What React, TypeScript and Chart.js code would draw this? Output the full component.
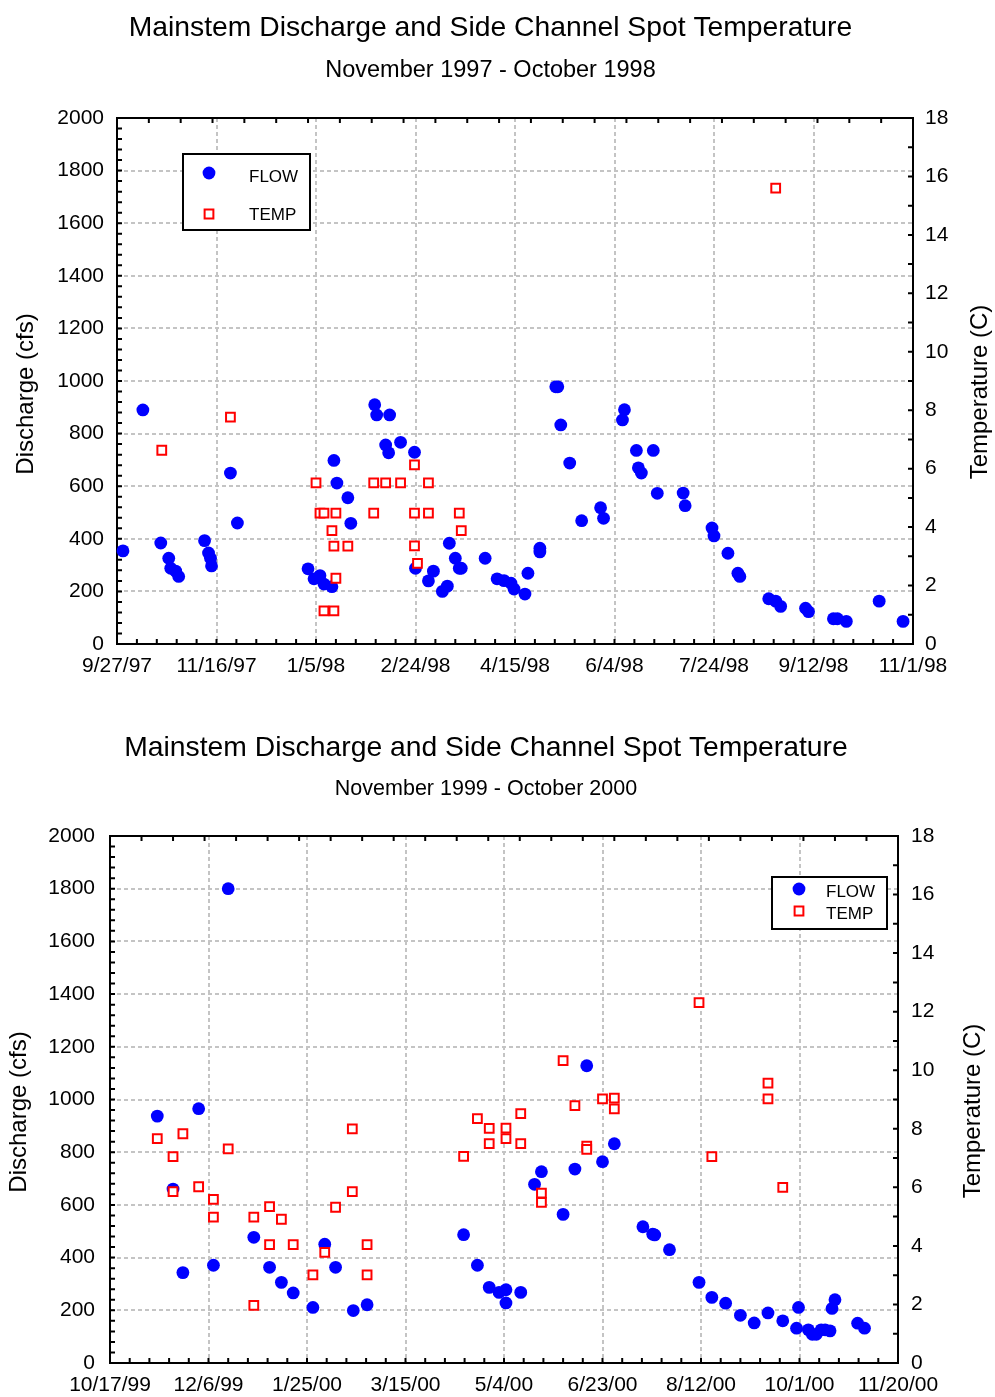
import React, { useEffect, useRef } from 'react';
import { Chart, registerables } from 'chart.js';

Chart.register(...registerables);

const FONT = "'Liberation Sans', Arial, Helvetica, sans-serif";
const TITLE = 'Mainstem Discharge and Side Channel Spot Temperature';

// ---------- Chart 1: November 1997 - October 1998 (x = days since 9/27/97) ----------
const subtitle1 = 'November 1997 - October 1998';
const xTickLabels1 = ['9/27/97', '11/16/97', '1/5/98', '2/24/98', '4/15/98', '6/4/98', '7/24/98', '9/12/98', '11/1/98'];
const flowDays1 = [3, 13, 22, 26, 27, 29.5, 31, 44, 46, 47, 47.5, 57, 60.5, 96, 99, 102, 104, 108, 109, 110.5, 116, 117.5, 129.5, 130.5, 135, 136.5, 137, 142.5, 149.5, 150, 156.5, 159, 163.5, 166, 167, 170, 172, 173, 185, 191, 194.5, 198, 199.5, 205, 206.5, 212.5, 212.5, 220.5, 221.5, 223, 227.5, 233.5, 243, 244.5, 254, 255, 261, 262, 263.5, 269.5, 271.5, 284.5, 285.5, 299, 300, 307, 312, 313, 327.5, 331, 333.5, 346, 347.5, 360, 362, 366.5, 383, 395];
const flowCfs1 = [354, 890, 384, 326, 288, 277, 257, 393, 346, 326, 297, 650, 460, 286, 248, 260, 228, 218, 698, 612, 556, 459, 910, 871, 757, 727, 871, 767, 729, 288, 240, 277, 200, 220, 383, 326, 288, 288, 326, 248, 241, 231, 209, 190, 269, 364, 350, 978, 978, 833, 688, 469, 518, 478, 852, 891, 736, 670, 650, 736, 573, 574, 526, 441, 411, 345, 269, 257, 172, 163, 143, 136, 123, 96, 96, 86, 163, 86];
const tempDays1 = [22.5, 57, 100, 102, 104, 110, 108, 109, 116, 110, 104, 109, 129, 135, 129, 142.5, 149.5, 156.5, 149.5, 156.5, 172, 173, 149.5, 151, 331];
const tempC1 = [6.63, 7.76, 5.51, 4.48, 4.48, 4.48, 3.88, 3.35, 3.35, 2.25, 1.13, 1.13, 5.51, 5.51, 4.48, 5.51, 6.13, 5.51, 4.48, 4.48, 4.48, 3.88, 3.36, 2.76, 15.6];

// ---------- Chart 2: November 1999 - October 2000 (x = days since 10/17/99) ----------
const subtitle2 = 'November 1999 - October 2000';
const xTickLabels2 = ['10/17/99', '12/6/99', '1/25/00', '3/15/00', '5/4/00', '6/23/00', '8/12/00', '10/1/00', '11/20/00'];
const flowDays2 = [24, 32, 37, 45, 52.5, 60, 73, 81, 87, 93, 103, 109, 114.5, 123.5, 130.5, 179.5, 186.5, 192.5, 197.5, 201, 201, 208.5, 215.5, 219, 230, 236, 242, 250, 256, 270.5, 275.5, 276.5, 284, 299, 305.5, 312.5, 320, 327, 334, 341.5, 348.5, 349.5, 354.5, 356.5, 358.5, 361, 363, 365.5, 366.5, 368, 379.5, 383];
const flowCfs2 = [937, 660, 343, 965, 371, 1800, 477, 363, 306, 266, 211, 451, 363, 199, 221, 487, 371, 287, 268, 278, 228, 268, 678, 726, 564, 736, 1128, 764, 832, 517, 489, 486, 430, 306, 249, 227, 181, 152, 190, 160, 132, 211, 126, 109, 109, 126, 126, 122, 207, 240, 151, 132];
const tempDays2 = [24, 32, 32, 37, 45, 52.5, 52.5, 60, 73, 73, 81, 81, 87, 93, 103, 109, 114.5, 123, 123, 130.5, 130.5, 179.5, 186.5, 192.5, 192.5, 201, 201, 208.5, 208.5, 219, 219, 230, 236, 242, 242, 250, 256, 256, 299, 305.5, 334, 334, 341.5];
const tempC2 = [7.66, 7.05, 5.85, 7.83, 6.02, 5.59, 4.98, 7.31, 4.98, 1.97, 5.34, 4.04, 4.91, 4.04, 3.01, 3.78, 5.32, 8.0, 5.85, 4.04, 3.01, 7.06, 8.35, 8.01, 7.49, 8.02, 7.66, 8.52, 7.49, 5.8, 5.49, 10.33, 8.79, 7.41, 7.3, 9.02, 9.05, 8.68, 12.31, 7.05, 9.56, 9.02, 6.0];

// axis ranges (shared)
const X_MAX_DAYS = 400;
const X_LABEL_STEP = 50;
const Q_MAX = 2000;
const Q_STEP = 200;
const T_MAX = 18;
const T_STEP = 2;

const GRID = '#c4c4c4';
const BLUE = '#0000ff';
const RED = '#ff0000';

const decorPlugin = {
  id: 'decor',
  beforeDatasetsDraw(chart: any, _args: any, o: any) {
    const { ctx, chartArea: a } = chart;
    const xs = chart.scales.x;
    const yl = chart.scales.y;
    const yr = chart.scales.y1;
    ctx.save();
    ctx.strokeStyle = '#000';
    ctx.lineWidth = 2;
    ctx.beginPath();
    const L = o.tickLen;
    for (let d = 0; d <= X_MAX_DAYS + 0.001; d += o.xMinor) {
      const px = xs.getPixelForValue(d);
      ctx.moveTo(px, a.bottom);
      ctx.lineTo(px, a.bottom - L);
    }
    for (let d = 0; d <= X_MAX_DAYS + 0.001; d += o.xTopMinor) {
      const px = xs.getPixelForValue(d);
      ctx.moveTo(px, a.top);
      ctx.lineTo(px, a.top + L);
    }
    for (let v = 0; v <= Q_MAX + 0.001; v += o.yMinor) {
      const py = yl.getPixelForValue(v);
      ctx.moveTo(a.left, py);
      ctx.lineTo(a.left + L, py);
    }
    for (let t = 0; t <= T_MAX + 0.001; t += o.y1Minor) {
      const py = yr.getPixelForValue(t);
      ctx.moveTo(a.right, py);
      ctx.lineTo(a.right - L, py);
    }
    ctx.stroke();
    ctx.strokeRect(a.left, a.top, a.right - a.left, a.bottom - a.top);
    ctx.restore();
  },
  afterDraw(chart: any, _args: any, o: any) {
    const { ctx } = chart;
    ctx.save();
    ctx.fillStyle = '#000';
    ctx.textBaseline = 'middle';
    ctx.textAlign = 'center';
    ctx.font = `${o.axisTitleSize}px ${FONT}`;
    // left axis title
    ctx.save();
    ctx.translate(o.leftTitle.x, o.leftTitle.y);
    ctx.rotate(-Math.PI / 2);
    ctx.fillText(o.leftTitle.text, 0, 0);
    ctx.restore();
    // right axis title (reads bottom to top)
    ctx.save();
    ctx.translate(o.rightTitle.x, o.rightTitle.y);
    ctx.rotate(-Math.PI / 2);
    ctx.fillText(o.rightTitle.text, 0, 0);
    ctx.restore();

    // legend box
    const lg = o.legend;
    ctx.fillStyle = '#fff';
    ctx.fillRect(lg.x, lg.y, lg.w, lg.h);
    ctx.strokeStyle = '#000';
    ctx.lineWidth = 2;
    ctx.strokeRect(lg.x, lg.y, lg.w, lg.h);
    ctx.font = `${lg.fontSize}px ${FONT}`;
    ctx.textAlign = 'left';
    chart.data.datasets.forEach((ds: any, i: number) => {
      const row = lg.rows[i];
      const r = ds.pointRadius;
      ctx.beginPath();
      if (ds.pointStyle === 'rect') {
        const s = Math.SQRT1_2 * r;
        ctx.rect(lg.symX - s, row.sy - s, 2 * s, 2 * s);
        ctx.fillStyle = ds.backgroundColor;
        ctx.fill();
        ctx.lineWidth = ds.borderWidth;
        ctx.strokeStyle = ds.borderColor;
        ctx.stroke();
      } else {
        ctx.arc(lg.symX, row.sy, r, 0, Math.PI * 2);
        ctx.fillStyle = ds.backgroundColor;
        ctx.fill();
      }
      ctx.fillStyle = '#000';
      ctx.fillText(ds.label, lg.textX, row.ty);
    });
    ctx.restore();
  },
};

type Params = {
  width: number;
  height: number;
  left: number;
  right: number;
  top: number;
  bottom: number;
  padRight: number;
  titleTop: number;
  subTop: number;
  subSize: number;
  yPadL: number;
  yPadR: number;
  xPad: number;
  subtitle: string;
  xTickLabels: string[];
  flowDays: number[];
  flowCfs: number[];
  tempDays: number[];
  tempC: number[];
  leftTitle: { x: number; y: number };
  rightTitle: { x: number; y: number };
  legend: any;
};

const TITLE_SIZE = 28.3;
const TICK_SIZE = 21;

function buildConfig(p: Params): any {
  const titleLH = TITLE_SIZE * 1.2;
  const subLH = p.subSize * 1.2;
  const subBottom = p.top - (p.titleTop + titleLH + p.subTop + subLH);
  const tickFont = { family: FONT, size: TICK_SIZE };
  return {
    type: 'scatter',
    data: {
      datasets: [
        {
          label: 'FLOW',
          data: p.flowDays.map((d, i) => ({ x: d, y: p.flowCfs[i] })),
          yAxisID: 'y',
          pointStyle: 'circle',
          pointRadius: 6.4,
          pointHoverRadius: 6.4,
          backgroundColor: BLUE,
          borderColor: BLUE,
          borderWidth: 0,
          order: 2,
          clip: false,
        },
        {
          label: 'TEMP',
          data: p.tempDays.map((d, i) => ({ x: d, y: p.tempC[i] })),
          yAxisID: 'y1',
          pointStyle: 'rect',
          pointRadius: 6.2,
          pointHoverRadius: 6.2,
          backgroundColor: '#ffffff',
          borderColor: RED,
          borderWidth: 2,
          order: 1,
          clip: false,
        },
      ],
    },
    plugins: [decorPlugin],
    options: {
      animation: false,
      responsive: false,
      events: [],
      layout: { padding: { left: 0, right: p.padRight, top: 0, bottom: 0 } },
      plugins: {
        legend: { display: false },
        tooltip: { enabled: false },
        title: {
          display: true,
          text: TITLE,
          color: '#000',
          font: { family: FONT, size: TITLE_SIZE, weight: 'normal', lineHeight: 1.2 },
          padding: { top: p.titleTop, bottom: 0 },
        },
        subtitle: {
          display: true,
          text: p.subtitle,
          color: '#000',
          font: { family: FONT, size: p.subSize, weight: 'normal', lineHeight: 1.2 },
          padding: { top: p.subTop, bottom: subBottom },
        },
        decor: {
          tickLen: 5,
          xMinor: 10,
          xTopMinor: 16,
          yMinor: 40,
          y1Minor: 1,
          axisTitleSize: 24,
          leftTitle: { text: 'Discharge (cfs)', ...p.leftTitle },
          rightTitle: { text: 'Temperature (C)', ...p.rightTitle },
          legend: p.legend,
        },
      },
      scales: {
        x: {
          type: 'linear',
          position: 'bottom',
          min: 0,
          max: X_MAX_DAYS,
          afterFit: (s: any) => {
            s.height = p.height - p.bottom;
          },
          ticks: {
            stepSize: X_LABEL_STEP,
            autoSkip: false,
            maxRotation: 0,
            padding: p.xPad,
            color: '#000',
            font: tickFont,
            callback: (v: number) => p.xTickLabels[Math.round(v / X_LABEL_STEP)] ?? '',
          },
          grid: { color: GRID, lineWidth: 2, drawTicks: false },
          border: { display: false, dash: [4, 3] },
        },
        y: {
          type: 'linear',
          position: 'left',
          min: 0,
          max: Q_MAX,
          afterFit: (s: any) => {
            s.width = p.left;
          },
          ticks: {
            stepSize: Q_STEP,
            autoSkip: false,
            padding: p.yPadL,
            color: '#000',
            font: tickFont,
            callback: (v: number) => String(v),
          },
          grid: { color: GRID, lineWidth: 2, drawTicks: false },
          border: { display: false, dash: [4, 3] },
        },
        y1: {
          type: 'linear',
          position: 'right',
          min: 0,
          max: T_MAX,
          afterFit: (s: any) => {
            s.width = p.width - p.padRight - p.right;
          },
          ticks: {
            stepSize: T_STEP,
            autoSkip: false,
            padding: p.yPadR,
            color: '#000',
            font: tickFont,
            callback: (v: number) => String(v),
          },
          grid: { display: false, drawTicks: false },
          border: { display: false },
        },
      },
    },
  };
}

function MainstemChart({ p }: { p: Params }) {
  const ref = useRef<HTMLCanvasElement>(null);
  useEffect(() => {
    const chart = new Chart(ref.current as HTMLCanvasElement, buildConfig(p));
    return () => chart.destroy();
  }, [p]);
  return (
    <canvas
      ref={ref}
      width={p.width}
      height={p.height}
      style={{ display: 'block', width: p.width, height: p.height }}
    />
  );
}

const chart1: Params = {
  width: 995,
  height: 700,
  left: 117,
  right: 913,
  top: 118,
  bottom: 644,
  padRight: 14,
  titleTop: 11,
  subTop: 11,
  subSize: 23.5,
  yPadL: 13,
  yPadR: 12,
  xPad: 9.4,
  subtitle: subtitle1,
  xTickLabels: xTickLabels1,
  flowDays: flowDays1,
  flowCfs: flowCfs1,
  tempDays: tempDays1,
  tempC: tempC1,
  leftTitle: { x: 26, y: 394 },
  rightTitle: { x: 980, y: 392 },
  legend: {
    x: 183, y: 154, w: 127, h: 76, symX: 209, textX: 249, fontSize: 17,
    rows: [{ sy: 173, ty: 177 }, { sy: 214, ty: 215.5 }],
  },
};

const chart2: Params = {
  width: 995,
  height: 697,
  left: 110,
  right: 898,
  top: 136,
  bottom: 663,
  padRight: 23,
  titleTop: 31,
  subTop: 11.5,
  subSize: 21.5,
  yPadL: 15,
  yPadR: 13,
  xPad: 9.4,
  subtitle: subtitle2,
  xTickLabels: xTickLabels2,
  flowDays: flowDays2,
  flowCfs: flowCfs2,
  tempDays: tempDays2,
  tempC: tempC2,
  leftTitle: { x: 19, y: 412 },
  rightTitle: { x: 973, y: 411 },
  legend: {
    x: 772, y: 177, w: 115, h: 52, symX: 799, textX: 826, fontSize: 17,
    rows: [{ sy: 189, ty: 192.5 }, { sy: 211, ty: 214.5 }],
  },
};

export default function App() {
  return (
    <div style={{ position: 'absolute', left: 0, top: 0, width: 995, height: 1397, background: '#fff' }}>
      <MainstemChart p={chart1} />
      <MainstemChart p={chart2} />
    </div>
  );
}
